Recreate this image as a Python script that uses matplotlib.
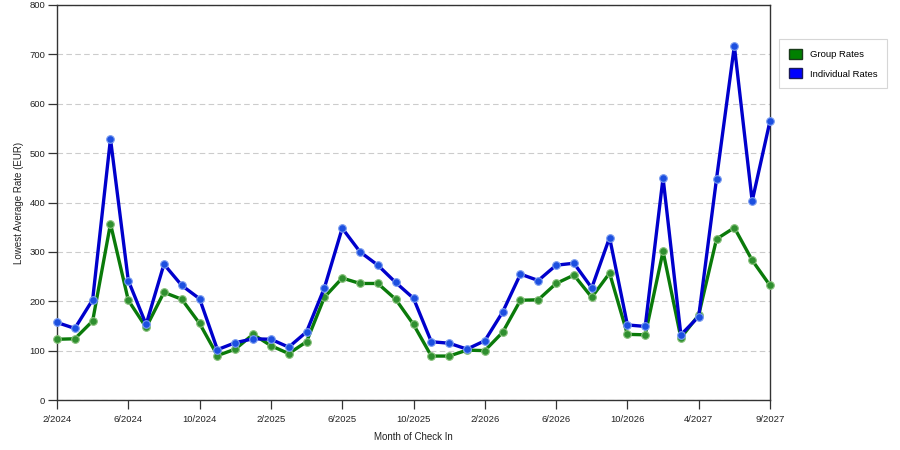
import matplotlib
matplotlib.use("Agg")
import matplotlib.pyplot as plt
from matplotlib.patches import Patch

plt.rcParams['font.family'] = ['Liberation Sans', 'DejaVu Sans']

# Months of check in (a few months missing in 2027)
months = ['2/2024', '3/2024', '4/2024', '5/2024', '6/2024', '7/2024', '8/2024', '9/2024',
          '10/2024', '11/2024', '12/2024', '1/2025', '2/2025', '3/2025', '4/2025', '5/2025',
          '6/2025', '7/2025', '8/2025', '9/2025', '10/2025', '11/2025', '12/2025', '1/2026',
          '2/2026', '3/2026', '4/2026', '5/2026', '6/2026', '7/2026', '8/2026', '9/2026',
          '10/2026', '11/2026', '12/2026', '1/2027', '4/2027', '5/2027', '6/2027', '7/2027',
          '9/2027']

group_rates = [123, 124, 160, 357, 202, 147, 218, 204, 155, 90, 103, 133, 110, 94,
               118, 208, 247, 236, 236, 204, 153, 89, 89, 101, 100, 137, 202, 203,
               236, 253, 208, 257, 133, 132, 301, 126, 172, 326, 349, 283, 232]

individual_rates = [157, 145, 203, 529, 242, 153, 275, 232, 205, 102, 116, 124, 123, 107,
                    138, 227, 348, 300, 273, 238, 206, 118, 115, 103, 120, 178, 255, 242,
                    273, 277, 227, 329, 152, 149, 450, 132, 169, 448, 717, 403, 565]

x = list(range(len(months)))

fig = plt.figure(figsize=(9, 4.5), dpi=100)
ax = fig.add_axes([57 / 900, 1 - 400 / 450, 713 / 900, 395 / 450])

ax.plot(x, group_rates, color='#0a7a0a', linewidth=2.4, marker='o', markersize=5.5,
        markerfacecolor='#2f8f2f', markeredgecolor='#86c07a', markeredgewidth=0.8,
        clip_on=False, zorder=3)
ax.plot(x, individual_rates, color='#0000cc', linewidth=2.4, marker='o', markersize=5.5,
        markerfacecolor='#1c4fe0', markeredgecolor='#7a9cf0', markeredgewidth=0.8,
        clip_on=False, zorder=4)

ax.set_xlim(0, len(months) - 1)
ax.set_ylim(0, 800)
ax.set_yticks(range(0, 801, 100))
ax.set_xticks(x[::4])
ax.set_xticklabels(months[::4])

ax.yaxis.grid(True, color='#cccccc', linestyle=(0, (5, 3)), linewidth=0.8)
ax.set_axisbelow(True)

for s in ax.spines.values():
    s.set_color('#333333')
    s.set_linewidth(1.0)
ax.tick_params(axis='both', direction='out', length=6.5, width=0.9, color='#333333',
               labelsize=6.8, labelcolor='#222222', pad=2)
ax.tick_params(axis='x', pad=4)

ax.set_xlabel('Month of Check In', fontsize=7, color='#222222', labelpad=6)
ax.set_ylabel('Lowest Average Rate (EUR)', fontsize=7, color='#222222', labelpad=4)

handles = [Patch(facecolor='#008000', edgecolor='#1a3a1a', label='Group Rates'),
           Patch(facecolor='#0000ff', edgecolor='#1a1a5a', label='Individual Rates')]
leg = fig.legend(handles=handles, loc='upper left', bbox_to_anchor=(779 / 900, 1 - 39 / 450),
                 fontsize=6.8, frameon=True, fancybox=False, edgecolor='#cccccc',
                 handlelength=1.35, handleheight=1.3, handletextpad=0.85,
                 labelspacing=0.95, borderpad=1.05, borderaxespad=0)
leg.get_frame().set_linewidth(0.8)

fig.savefig('out.png', dpi=100)
